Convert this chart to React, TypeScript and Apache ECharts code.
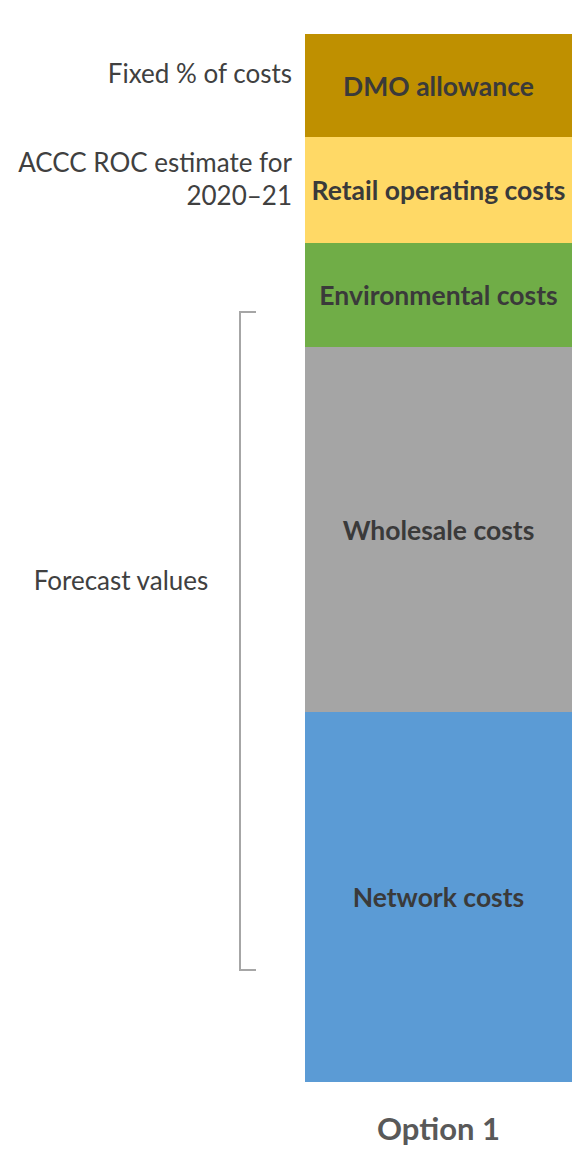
import React, { useEffect, useRef } from "react";
import * as echarts from "echarts";

const categories = ["Option 1"];
const segmentNames = [
  "Network costs",
  "Wholesale costs",
  "Environmental costs",
  "Retail operating costs",
  "DMO allowance",
];
const segmentValues = [37.0, 36.5, 10.4, 10.6, 10.3];
const segmentColors = ["#5B9BD5", "#A5A5A5", "#70AD47", "#FFD966", "#BF9000"];
const annotations = ["Fixed % of costs", "ACCC ROC estimate for\n2020–21", "Forecast values"];

const FONT = "Lato, 'Open Sans', sans-serif";

export default function App() {
  const ref = useRef<HTMLDivElement>(null);
  useEffect(() => {
    document.body.style.margin = "0";
    document.body.style.overflow = "hidden";
    if (!ref.current) return;
    const chart = echarts.init(ref.current, null, { renderer: "svg" });
    const total = segmentValues.reduce((a, b) => a + b, 0);
    chart.setOption({
      animation: false,
      grid: { left: 305, right: 3, top: 34, bottom: 67 },
      xAxis: {
        type: "category",
        data: categories,
        axisLine: { show: false },
        axisTick: { show: false },
        axisLabel: {
          color: "#595959",
          fontSize: 31,
          fontWeight: "bold",
          fontFamily: FONT,
          margin: 30,
        },
      },
      yAxis: {
        type: "value",
        min: 0,
        max: total,
        show: false,
      },
      series: segmentNames.map((name, i) => ({
        name,
        type: "bar",
        stack: "total",
        barWidth: "100%",
        data: [segmentValues[i]],
        itemStyle: { color: segmentColors[i] },
        label: {
          show: true,
          position: "inside",
          formatter: name,
          color: "#3a3a3a",
          fontSize: 26.5,
          fontWeight: "bold",
          fontFamily: FONT,
        },
      })),
      graphic: [
        {
          type: "text",
          x: 292,
          y: 73,
          style: {
            text: annotations[0],
            align: "right",
            verticalAlign: "middle",
            fill: "#404040",
            fontSize: 26,
            fontFamily: FONT,
          },
        },
        {
          type: "text",
          x: 292,
          y: 178,
          style: {
            text: annotations[1],
            align: "right",
            verticalAlign: "middle",
            lineHeight: 33,
            fill: "#404040",
            fontSize: 26,
            fontFamily: FONT,
          },
        },
        {
          type: "text",
          x: 121,
          y: 580,
          style: {
            text: annotations[2],
            align: "center",
            verticalAlign: "middle",
            fill: "#404040",
            fontSize: 26,
            fontFamily: FONT,
          },
        },
        {
          type: "polyline",
          shape: {
            points: [
              [256, 312],
              [240, 312],
              [240, 970],
              [256, 970],
            ],
          },
          style: { stroke: "#A6A6A6", lineWidth: 2, fill: null },
        },
      ],
    });
    return () => chart.dispose();
  }, []);
  return <div ref={ref} style={{ width: 575, height: 1149 }} />;
}
